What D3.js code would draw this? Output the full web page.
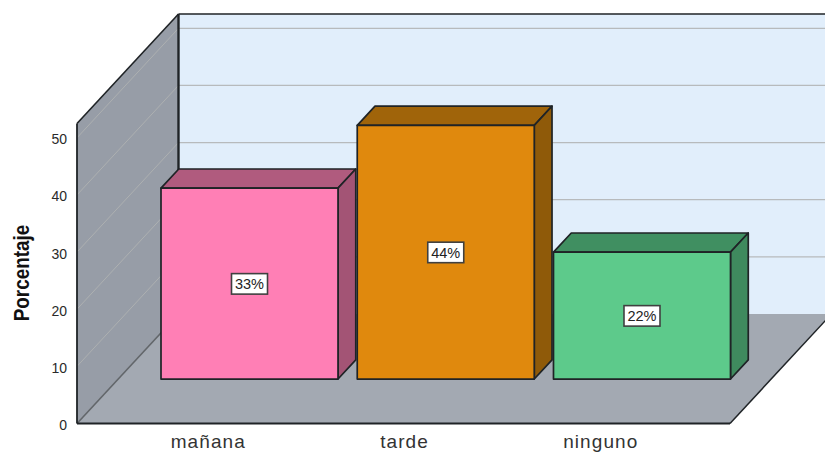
<!DOCTYPE html>
<html>
<head>
<meta charset="utf-8">
<script src="https://cdn.jsdelivr.net/npm/d3@7"></script>
<style>
html,body{margin:0;padding:0;background:#fff;}
svg{display:block;font-family:"Liberation Sans",Arial,sans-serif;}
</style>
</head>
<body>
<svg id="chart" width="825" height="452"></svg>
<script>
// Survey shares by time of day
const categories = ["mañana", "tarde", "ninguno"];
const percentages = [33.4, 44.4, 22.2];
const barFills = ["#ff7fb5", "#e0890d", "#5dca8b"];
const barTops = ["#b05b7e", "#a0640a", "#408f61"];
const barSides = ["#a35475", "#8f5a09", "#3f8a5e"];
const yTicks = [0, 10, 20, 30, 40, 50];

const svg = d3.select("#chart");
const ink = "#1f2326";

// Oblique projection: depth 0 is the front of the floor, depth 1 the back wall
const depthX = d3.scaleLinear().domain([0, 1]).range([0, 101.5]);
const depthY = d3.scaleLinear().domain([0, 1]).range([0, -109.5]);
const y = d3.scaleLinear().domain([0, 52.5]).range([423.5, 123.5]);
const xFront = d3.scaleLinear().domain([0, 1]).range([77, 730]);
const px = (u, d) => xFront(u) + depthX(d);
const py = (v, d) => y(v) + depthY(d);
const path = pts => "M" + pts.map(p => p.join(",")).join("L") + "Z";

const yMax = y.domain()[1];
const g = svg.append("g");

// Back wall, reaching past the right edge of the page
g.append("path")
  .attr("d", path([[px(0,1), py(0,1)], [px(1,1), py(0,1)], [px(1,1), py(yMax,1)], [px(0,1), py(yMax,1)]]))
  .attr("fill", "#e1eefb");

g.selectAll("line.back").data(yTicks.slice(1)).join("line")
  .attr("class", "back")
  .attr("x1", px(0,1)).attr("x2", px(1,1))
  .attr("y1", d => py(d,1)).attr("y2", d => py(d,1))
  .attr("stroke", "#b7babc").attr("stroke-width", 1.2);

// Side wall and its diagonal grid
g.append("path")
  .attr("d", path([[px(0,0), py(0,0)], [px(0,1), py(0,1)], [px(0,1), py(yMax,1)], [px(0,0), py(yMax,0)]]))
  .attr("fill", "#979da7");

g.selectAll("line.side").data(yTicks.slice(1)).join("line")
  .attr("class", "side")
  .attr("x1", px(0,0)).attr("x2", px(0,1))
  .attr("y1", d => py(d,0)).attr("y2", d => py(d,1))
  .attr("stroke", "#adb0b1").attr("stroke-width", 1);

// Floor
g.append("path")
  .attr("d", path([[px(0,0), py(0,0)], [px(1,0), py(0,0)], [px(1,1), py(0,1)], [px(0,1), py(0,1)]]))
  .attr("fill", "#a3a9b2");

// Structural edges of the box
const edges = [
  [[px(0,0), py(0,0)], [px(0,1), py(0,1)], 1.6, "#62666a"],
  [[px(0,0), py(0,0)], [px(1,0), py(0,0)], 2.2, ink],
  [[px(1,0), py(0,0)], [px(1,1), py(0,1)], 1.5, ink],
  [[px(0,0), py(0,0)], [px(0,0), py(yMax,0)], 1.8, ink],
  [[px(0,0), py(yMax,0)], [px(0,1), py(yMax,1)], 1.6, ink],
  [[px(0,1), py(yMax,1)], [px(1,1), py(yMax,1)], 1.6, ink],
  [[px(0,1), py(yMax,1)], [px(0,1), py(0,1)], 2.4, ink]
];
g.selectAll("line.edge").data(edges).join("line")
  .attr("class", "edge")
  .attr("x1", d => d[0][0]).attr("y1", d => d[0][1])
  .attr("x2", d => d[1][0]).attr("y2", d => d[1][1])
  .attr("stroke", d => d[3]).attr("stroke-width", d => d[2]);

// Bars stand on a plane part of the way into the floor
const barDepth = 0.406;
const barThick = 0.175;
const xBar = d3.scaleBand().domain(categories).range([161, 730.5]).paddingInner(0.098).paddingOuter(0);
const bars = g.selectAll("g.bar").data(categories).join("g").attr("class", "bar");

bars.each(function (c, i) {
  const b = d3.select(this);
  const x0 = xBar(c), x1 = x0 + xBar.bandwidth();
  const v = percentages[i];
  const ox = depthX(barThick), oy = depthY(barThick);
  const yb = py(0, barDepth), yt = py(v, barDepth);
  const add = (d, fill) => b.append("path").attr("d", d).attr("fill", fill)
    .attr("stroke", ink).attr("stroke-width", 1.7).attr("stroke-linejoin", "round");
  add(path([[x0, yt], [x1, yt], [x1 + ox, yt + oy], [x0 + ox, yt + oy]]), barTops[i]);
  add(path([[x1, yt], [x1 + ox, yt + oy], [x1 + ox, yb + oy], [x1, yb]]), barSides[i]);
  add(path([[x0, yt], [x1, yt], [x1, yb], [x0, yb]]), barFills[i]);

  // Value tag in the middle of the front face
  const cx = (x0 + x1) / 2, cy = (yt + yb) / 2;
  b.append("rect")
    .attr("x", cx - 18).attr("y", cy - 10)
    .attr("width", 36).attr("height", 20.5)
    .attr("fill", "#fff").attr("stroke", "#404040").attr("stroke-width", 1.6);
  b.append("text")
    .attr("x", cx).attr("y", cy + 5.5)
    .attr("text-anchor", "middle")
    .attr("font-size", 14.5).attr("fill", "#222")
    .text(d3.format(".0f")(v) + "%");
});

// Value axis along the front edge of the side wall
const yAxis = g.append("g").attr("transform", "translate(77,1.5)")
  .call(d3.axisLeft(y).tickValues(yTicks).tickSize(0).tickPadding(10));
yAxis.select(".domain").remove();
yAxis.selectAll("text").attr("font-size", 14).attr("font-family", "inherit").attr("fill", "#2a2a2a");

// Category axis below the floor, one band per bar
const xShift = depthX(barDepth);
const xAxisScale = d3.scaleBand().domain(categories)
  .range([161 - xShift, 730.5 - xShift]).paddingInner(0.098).paddingOuter(0);
const xAxis = g.append("g").attr("transform", "translate(0,423.5)")
  .call(d3.axisBottom(xAxisScale).tickSize(0).tickPadding(11));
xAxis.select(".domain").remove();
xAxis.selectAll("text").attr("font-size", 19).attr("font-family", "inherit").attr("fill", "#333")
  .attr("letter-spacing", "1.1px");

// Axis title
svg.append("text")
  .attr("transform", "translate(29,273) rotate(-90) scale(1.05,1.18)")
  .attr("text-anchor", "middle")
  .attr("font-weight", "bold").attr("font-size", 18).attr("fill", "#111")
  .text("Porcentaje");
</script>
</body>
</html>
